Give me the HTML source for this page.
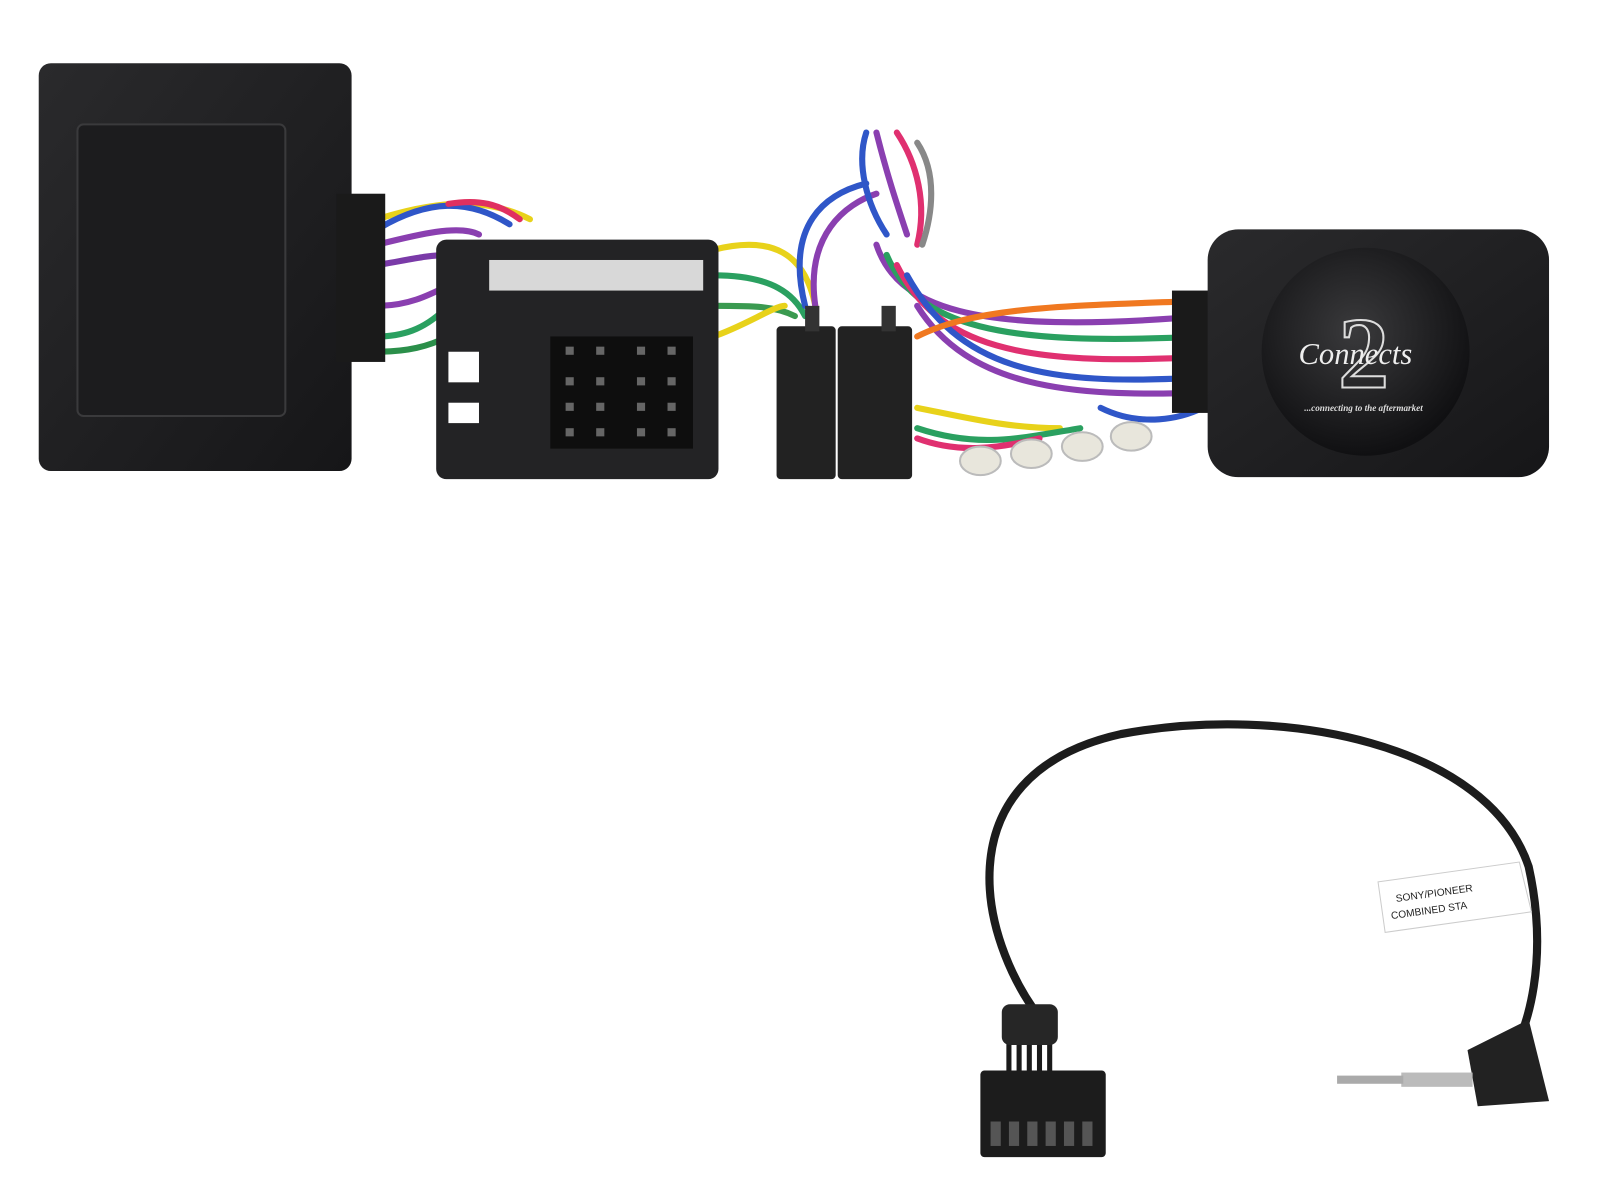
<!DOCTYPE html>
<html><head><meta charset="utf-8"><style>
html,body{margin:0;padding:0;background:#fff;}
svg{display:block;}
</style></head><body>
<svg width="1600" height="1200" viewBox="0 0 1570 1177" preserveAspectRatio="none" xmlns="http://www.w3.org/2000/svg">
<defs>
<linearGradient id="bx" x1="0" y1="0" x2="1" y2="1"><stop offset="0" stop-color="#2a2a2c"/><stop offset="1" stop-color="#161618"/></linearGradient>
<radialGradient id="lg" cx="0.45" cy="0.4" r="0.6"><stop offset="0" stop-color="#3a3a3c"/><stop offset="1" stop-color="#101012"/></radialGradient>
</defs>
<rect width="1600" height="1200" fill="#fff"/>

<g fill="none" stroke-width="6" stroke-linecap="round">
<path d="M370 215 C420 200 470 190 520 215" stroke="#e8d21a"/>
<path d="M370 225 C420 195 460 195 500 220" stroke="#2f56c8"/>
<path d="M370 240 C410 230 450 220 470 230" stroke="#8a3fb0"/>
<path d="M370 260 C400 255 420 250 440 250" stroke="#7a3aa8"/>
<path d="M370 300 C400 300 420 290 440 280" stroke="#8a3fb0"/>
<path d="M370 330 C400 330 420 320 440 300" stroke="#2aa060"/>
<path d="M370 345 C400 345 420 340 440 330" stroke="#2b8f4a"/>
<path d="M440 200 C470 195 490 200 510 215" stroke="#e03060"/>
<path d="M700 245 C760 230 790 250 800 300" stroke="#e8d21a"/>
<path d="M700 270 C760 270 780 290 790 310" stroke="#2aa060"/>
<path d="M700 300 C740 300 760 300 780 310" stroke="#3a9a50"/>
<path d="M700 330 C730 320 760 300 770 300" stroke="#e8d21a"/>
<path d="M790 300 C770 220 810 190 850 180" stroke="#2f56c8"/>
<path d="M800 300 C790 230 830 200 860 190" stroke="#8a3fb0"/>
<path d="M850 130 C840 160 850 200 870 230" stroke="#2f56c8"/>
<path d="M860 130 C870 170 880 200 890 230" stroke="#8a3fb0"/>
<path d="M880 130 C900 160 910 200 900 240" stroke="#e03070"/>
<path d="M900 140 C920 170 915 210 905 240" stroke="#888"/>
<path d="M860 240 C880 300 950 330 1180 310" stroke="#8a3fb0"/>
<path d="M870 250 C900 320 980 340 1180 330" stroke="#2aa060"/>
<path d="M880 260 C920 340 1000 360 1180 350" stroke="#e03070"/>
<path d="M890 270 C940 360 1020 380 1180 370" stroke="#2f56c8"/>
<path d="M900 300 C950 380 1050 390 1180 385" stroke="#8a3fb0"/>
<path d="M900 330 C960 300 1050 300 1180 295" stroke="#f07820"/>
<path d="M900 400 C950 410 990 420 1040 420" stroke="#e8d21a"/>
<path d="M900 420 C960 440 1000 430 1060 420" stroke="#2aa060"/>
<path d="M900 430 C940 445 980 440 1020 430" stroke="#e03070"/>
<path d="M1080 400 C1120 420 1160 410 1180 400" stroke="#2f56c8"/>
</g>

<rect x="38" y="62" width="307" height="400" rx="12" fill="url(#bx)"/>
<rect x="76" y="122" width="204" height="286" rx="6" fill="#1c1c1e" stroke="#3a3a3c" stroke-width="2"/>
<rect x="330" y="190" width="48" height="165" fill="#1a1a1a"/>

<rect x="428" y="235" width="277" height="235" rx="10" fill="#232325"/>
<rect x="480" y="255" width="210" height="30" fill="#d8d8d8"/>
<rect x="440" y="345" width="30" height="30" fill="#fff"/>
<rect x="440" y="395" width="30" height="20" fill="#fff"/>
<rect x="540" y="330" width="140" height="110" fill="#0e0e0e"/>
<g fill="#666">
<rect x="555" y="340" width="8" height="8"/><rect x="585" y="340" width="8" height="8"/><rect x="625" y="340" width="8" height="8"/><rect x="655" y="340" width="8" height="8"/>
<rect x="555" y="370" width="8" height="8"/><rect x="585" y="370" width="8" height="8"/><rect x="625" y="370" width="8" height="8"/><rect x="655" y="370" width="8" height="8"/>
<rect x="555" y="395" width="8" height="8"/><rect x="585" y="395" width="8" height="8"/><rect x="625" y="395" width="8" height="8"/><rect x="655" y="395" width="8" height="8"/>
<rect x="555" y="420" width="8" height="8"/><rect x="585" y="420" width="8" height="8"/><rect x="625" y="420" width="8" height="8"/><rect x="655" y="420" width="8" height="8"/>
</g>

<rect x="762" y="320" width="58" height="150" rx="4" fill="#222"/>
<rect x="822" y="320" width="73" height="150" rx="4" fill="#222"/>
<rect x="790" y="300" width="14" height="25" fill="#333"/>
<rect x="865" y="300" width="14" height="25" fill="#333"/>

<g fill="#e8e6dc" stroke="#bbb" stroke-width="2">
<ellipse cx="962" cy="452" rx="20" ry="14"/><ellipse cx="1012" cy="445" rx="20" ry="14"/>
<ellipse cx="1062" cy="438" rx="20" ry="14"/><ellipse cx="1110" cy="428" rx="20" ry="14"/>
</g>

<rect x="1150" y="285" width="45" height="120" fill="#1a1a1a"/>
<rect x="1185" y="225" width="335" height="243" rx="30" fill="url(#bx)"/>
<circle cx="1340" cy="345" r="102" fill="url(#lg)"/>
<text x="1338" y="380" font-family="Liberation Serif, serif" font-size="100" font-weight="bold" fill="none" stroke="#ddd" stroke-width="2" text-anchor="middle">2</text>
<text x="1330" y="357" font-family="Liberation Serif, serif" font-style="italic" font-size="30" fill="#eee" text-anchor="middle">Connects</text>
<text x="1338" y="403" font-family="Liberation Serif, serif" font-style="italic" font-weight="bold" font-size="9" fill="#ddd" text-anchor="middle">...connecting to the aftermarket</text>

<path d="M1030 1010 C960 930 920 760 1100 720 C1260 690 1460 730 1500 850 C1520 940 1500 1010 1480 1040" fill="none" stroke="#1c1c1c" stroke-width="8"/>
<path d="M990 1000 L990 1050 M1000 995 L1000 1050 M1010 990 L1010 1050 M1020 995 L1020 1050 M1030 1000 L1030 1050" stroke="#1a1a1a" stroke-width="5"/>
<rect x="983" y="985" width="55" height="40" rx="8" fill="#262626"/>
<rect x="962" y="1050" width="123" height="85" rx="4" fill="#1c1c1c"/>
<g fill="#555"><rect x="972" y="1100" width="10" height="24"/><rect x="990" y="1100" width="10" height="24"/><rect x="1008" y="1100" width="10" height="24"/><rect x="1026" y="1100" width="10" height="24"/><rect x="1044" y="1100" width="10" height="24"/><rect x="1062" y="1100" width="10" height="24"/></g>
<path d="M1440 1030 L1500 1000 L1520 1080 L1450 1085 Z" fill="#222"/>
<rect x="1375" y="1052" width="70" height="14" fill="#bbb"/>
<rect x="1312" y="1055" width="65" height="8" fill="#aaa"/>
<g transform="translate(1425 880) rotate(-8)">
<path d="M-70 -25 L70 -25 L75 25 L-70 25 Z" fill="#fff" stroke="#ccc" stroke-width="1"/>
<text x="-55" y="-3" font-family="Liberation Sans, sans-serif" font-size="10" fill="#222">SONY/PIONEER</text>
<text x="-62" y="13" font-family="Liberation Sans, sans-serif" font-size="10" fill="#222">COMBINED STA</text>
</g>
</svg>
</body></html>
